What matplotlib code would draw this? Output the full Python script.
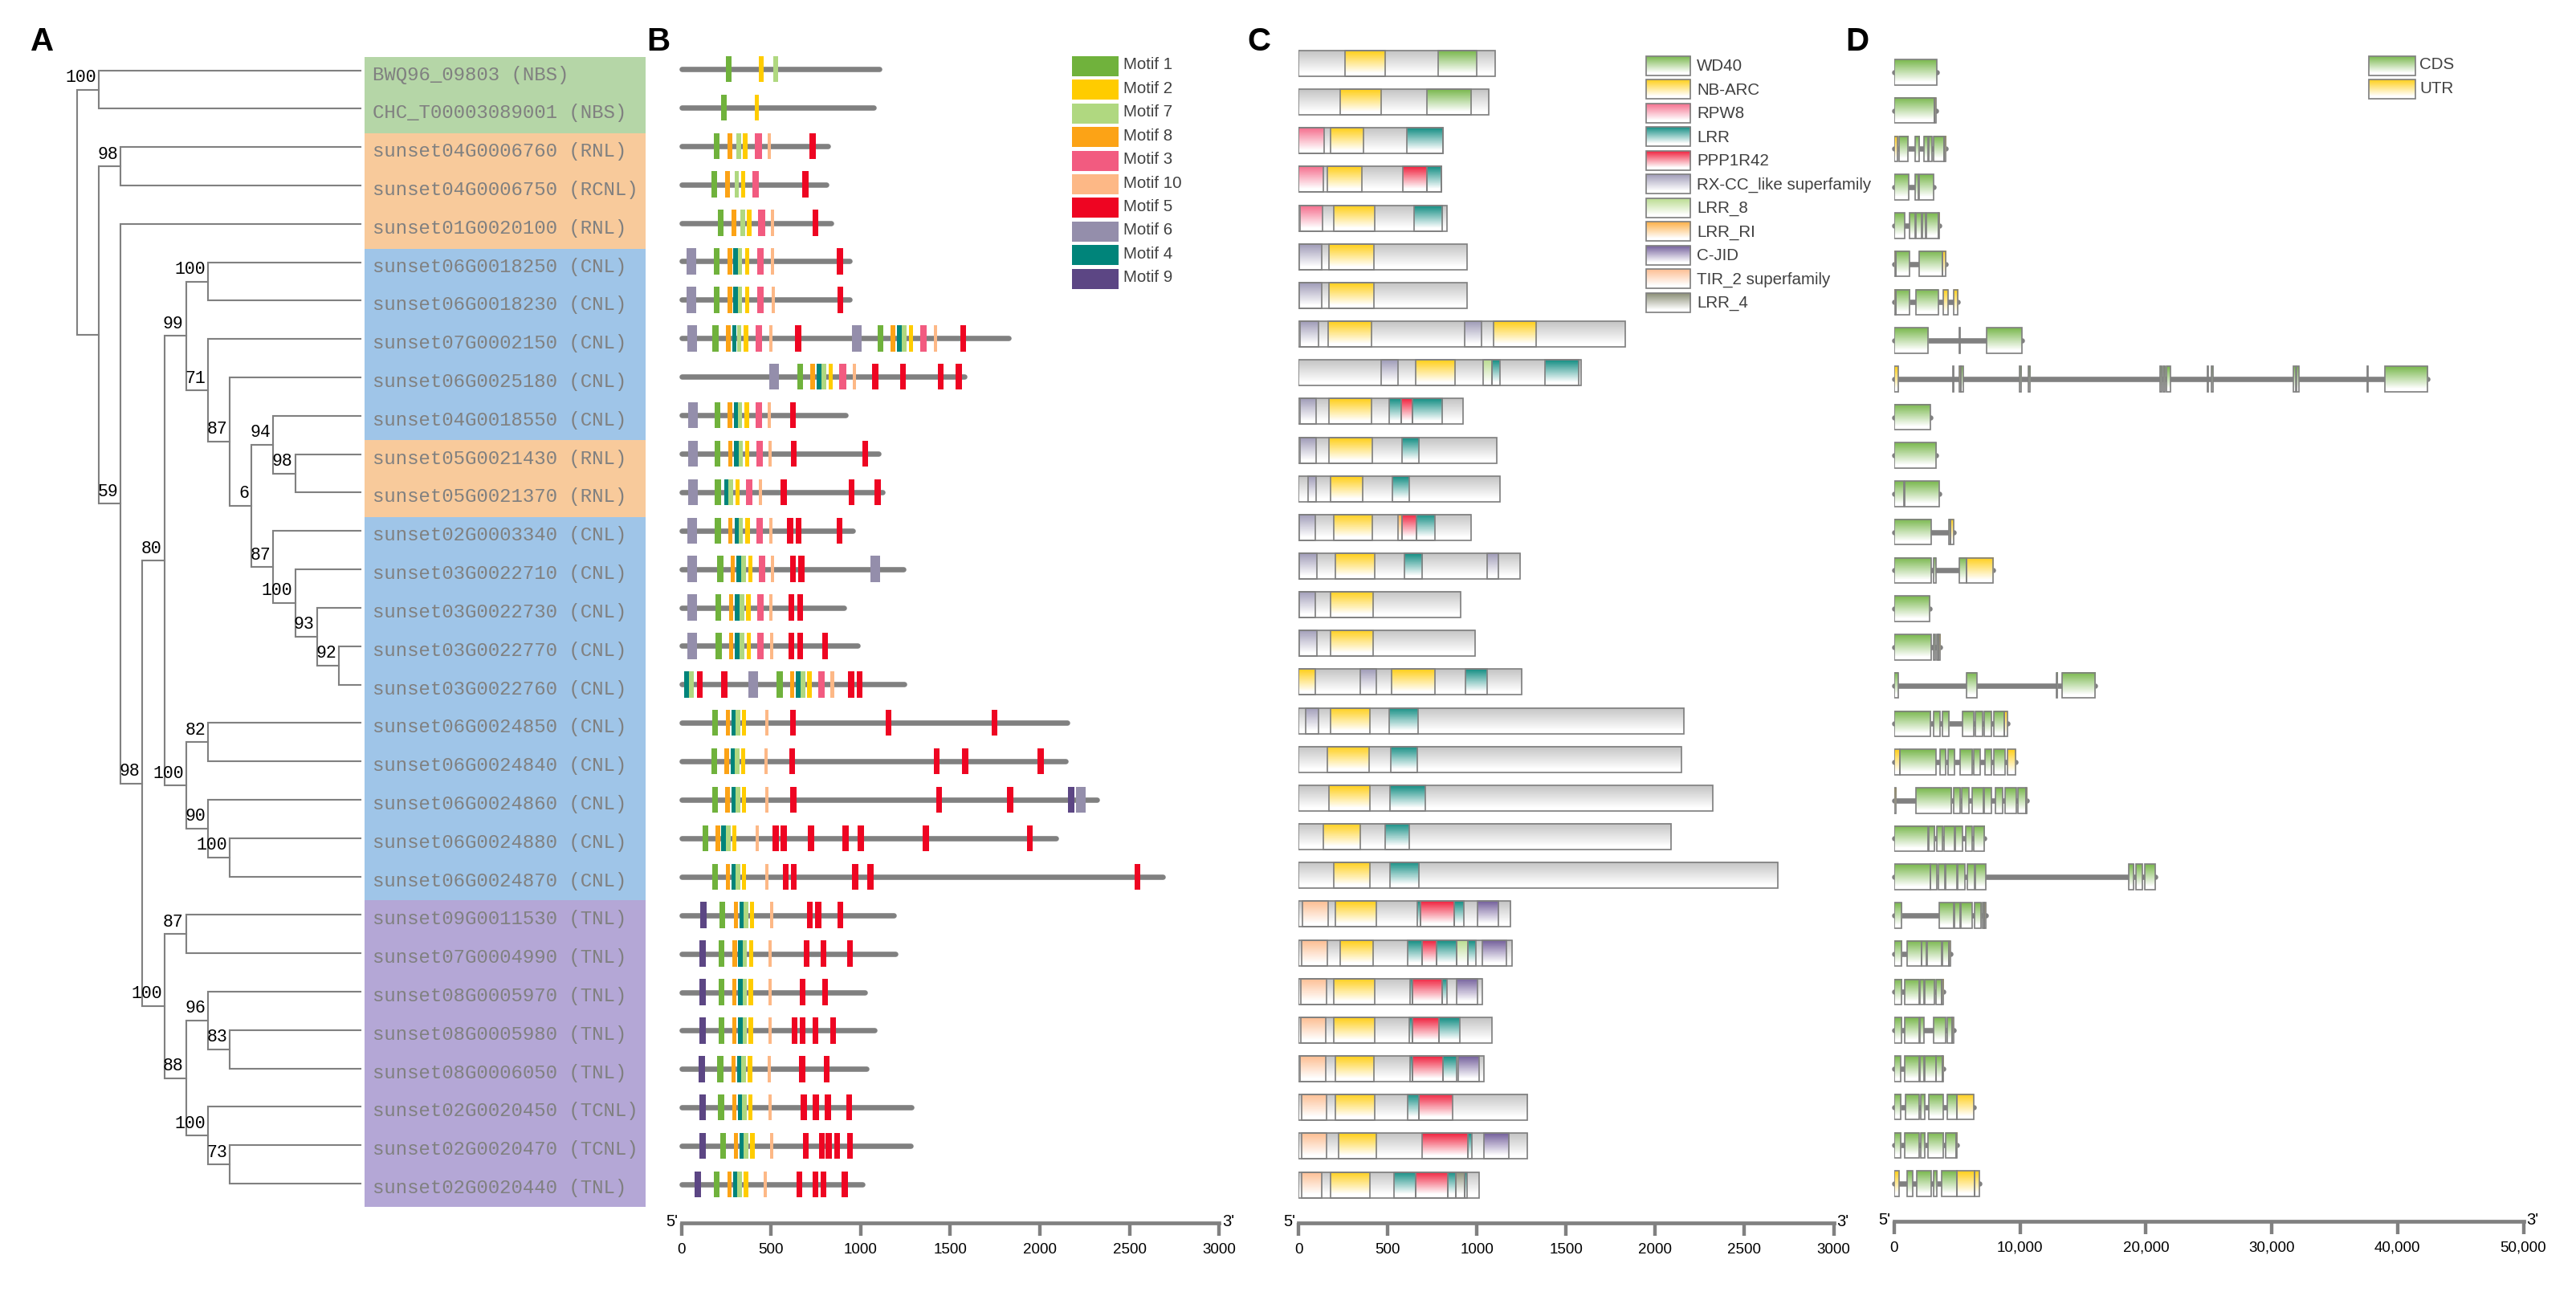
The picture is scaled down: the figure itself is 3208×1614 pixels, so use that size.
import numpy as np
import matplotlib
matplotlib.use('Agg')
import matplotlib.pyplot as plt
from matplotlib.patches import Rectangle
from matplotlib.colors import to_rgb

NARROW = ['Liberation Sans']
GRAY = '#808080'
W, H = 3208, 1615

# %% panel A
gene_labels = [
    'BWQ96_09803 (NBS)', 'CHC_T00003089001 (NBS)', 'sunset04G0006760 (RNL)',
    'sunset04G0006750 (RCNL)', 'sunset01G0020100 (RNL)', 'sunset06G0018250 (CNL)',
    'sunset06G0018230 (CNL)', 'sunset07G0002150 (CNL)', 'sunset06G0025180 (CNL)',
    'sunset04G0018550 (CNL)', 'sunset05G0021430 (RNL)', 'sunset05G0021370 (RNL)',
    'sunset02G0003340 (CNL)', 'sunset03G0022710 (CNL)', 'sunset03G0022730 (CNL)',
    'sunset03G0022770 (CNL)', 'sunset03G0022760 (CNL)', 'sunset06G0024850 (CNL)',
    'sunset06G0024840 (CNL)', 'sunset06G0024860 (CNL)', 'sunset06G0024880 (CNL)',
    'sunset06G0024870 (CNL)', 'sunset09G0011530 (TNL)', 'sunset07G0004990 (TNL)',
    'sunset08G0005970 (TNL)', 'sunset08G0005980 (TNL)', 'sunset08G0006050 (TNL)',
    'sunset02G0020450 (TCNL)', 'sunset02G0020470 (TCNL)', 'sunset02G0020440 (TNL)',
]
band_sizes = [2, 3, 5, 2, 10, 8]
band_colors = ['#B5D6A7', '#F8CA9B', '#9FC5E8', '#F8CA9B', '#9FC5E8', '#B4A7D6']

# (bootstrap, child, child), a tip is its row number
tree_upper = ('99', ('100', 5, 6),
              ('71', 7, ('87', 8, ('6', ('94', 9, ('98', 10, 11)),
                                   ('87', 12, ('100', 13, ('93', 14, ('92', 15, 16))))))))
tree_cnl = ('100', ('82', 17, 18), ('90', 19, ('100', 20, 21)))
tree_tnl = ('100', ('87', 22, 23),
            ('88', ('96', 24, ('83', 25, 26)), ('100', 27, ('73', 28, 29))))
tree = ('', ('100', 0, 1),
        ('', ('98', 2, 3), ('59', 4, ('98', ('80', tree_upper, tree_cnl), tree_tnl))))

# %% panel B, (motif, start, end) in aa
motif_order = [1, 2, 7, 8, 3, 10, 5, 6, 4, 9]
motif_colors = ['#70B23C', '#FFCC00', '#B0D880', '#FCA316', '#F25B80',
                '#FDB886', '#EE0522', '#948EAB', '#00847A', '#5C4684']
protein_len_b = [1104, 1072, 816, 808, 836, 938, 938, 1823, 1578, 918,
                 1100, 1121, 956, 1238, 908, 981, 1244, 2153, 2141, 2318,
                 2088, 2683, 1183, 1195, 1024, 1078, 1033, 1283, 1278, 1008]
motif_rows = [
    [(1, 249, 280), (2, 432, 458), (7, 512, 539)],
    [(1, 222, 253), (2, 409, 432)],
    [(1, 181, 214), (8, 257, 284), (7, 306, 333), (2, 343, 370), (3, 409, 448), (10, 481, 500), (5, 713, 750)],
    [(1, 169, 199), (8, 245, 271), (7, 298, 321), (2, 333, 356), (3, 397, 432), (5, 674, 709)],
    [(1, 204, 234), (8, 280, 306), (7, 329, 356), (2, 366, 393), (3, 428, 469), (10, 500, 518), (5, 732, 763)],
    [(6, 29, 82), (1, 181, 214), (8, 257, 284), (4, 290, 317), (7, 317, 337), (2, 356, 378), (3, 424, 458), (10, 500, 518), (5, 866, 903)],
    [(6, 29, 82), (1, 181, 214), (8, 257, 284), (4, 290, 317), (7, 317, 337), (2, 356, 378), (3, 424, 458), (10, 504, 522), (5, 872, 903)],
    [(6, 33, 88), (1, 173, 208), (8, 249, 276), (4, 284, 306), (7, 310, 333), (2, 347, 374), (3, 415, 450), (10, 491, 508), (5, 633, 670),
     (6, 952, 1005), (1, 1096, 1127), (8, 1166, 1192), (4, 1203, 1229), (7, 1229, 1256), (2, 1268, 1291), (3, 1332, 1367), (10, 1408, 1427), (5, 1556, 1587)],
    [(6, 491, 545), (1, 648, 678), (8, 720, 746), (4, 755, 781), (7, 781, 808), (2, 822, 845), (3, 880, 921), (10, 956, 975),
     (5, 1063, 1100), (5, 1221, 1252), (5, 1431, 1462), (5, 1530, 1565)],
    [(6, 39, 93), (1, 185, 218), (8, 257, 284), (4, 294, 317), (7, 317, 337), (2, 352, 378), (3, 415, 450), (10, 481, 500), (5, 607, 637)],
    [(6, 39, 93), (1, 185, 218), (8, 261, 284), (4, 294, 321), (7, 321, 343), (2, 356, 378), (3, 419, 454), (10, 485, 504), (5, 611, 644), (5, 1010, 1040)],
    [(6, 39, 93), (1, 185, 222), (4, 241, 261), (7, 261, 290), (2, 302, 325), (3, 360, 397), (10, 432, 450), (5, 553, 588), (5, 933, 964), (5, 1077, 1112)],
    [(6, 33, 88), (1, 185, 222), (8, 261, 284), (4, 298, 321), (7, 321, 343), (2, 356, 382), (3, 419, 454), (10, 491, 508), (5, 588, 625), (5, 637, 670), (5, 866, 898)],
    [(6, 33, 88), (1, 199, 234), (8, 276, 298), (4, 306, 333), (7, 333, 360), (2, 374, 397), (3, 432, 469), (10, 500, 518), (5, 607, 637), (5, 652, 687), (6, 1055, 1108)],
    [(6, 33, 88), (1, 191, 222), (8, 267, 290), (4, 298, 325), (7, 325, 352), (2, 360, 387), (3, 424, 458), (10, 491, 508), (5, 598, 629), (5, 648, 678)],
    [(6, 33, 88), (1, 191, 226), (8, 267, 290), (4, 298, 325), (7, 325, 352), (2, 366, 389), (3, 424, 458), (10, 495, 512), (5, 598, 629), (5, 648, 678), (5, 785, 818)],
    [(4, 16, 43), (7, 43, 70), (5, 88, 119), (5, 222, 257), (6, 374, 428), (1, 530, 567), (8, 607, 629), (4, 637, 664), (7, 664, 693), (2, 701, 728),
     (3, 763, 800), (10, 831, 853), (5, 929, 964), (5, 979, 1010)],
    [(1, 173, 204), (8, 249, 271), (4, 280, 302), (7, 302, 329), (2, 337, 360), (10, 469, 485), (5, 607, 637), (5, 1139, 1172), (5, 1731, 1762)],
    [(1, 169, 199), (8, 241, 267), (4, 276, 298), (7, 298, 325), (2, 333, 356), (10, 463, 481), (5, 602, 633), (5, 1408, 1439), (5, 1565, 1602), (5, 1986, 2021)],
    [(1, 173, 204), (8, 245, 271), (4, 280, 302), (7, 302, 329), (2, 337, 360), (10, 469, 485), (5, 607, 644), (5, 1423, 1454), (5, 1815, 1852), (9, 2157, 2192), (6, 2200, 2255)],
    [(1, 119, 150), (8, 191, 218), (4, 222, 249), (7, 249, 276), (2, 284, 306), (10, 415, 432), (5, 508, 545), (5, 553, 588), (5, 705, 740), (5, 898, 933), (5, 983, 1020), (5, 1345, 1382), (5, 1929, 1959)],
    [(1, 173, 204), (8, 249, 271), (4, 280, 302), (7, 302, 329), (2, 337, 360), (10, 469, 485), (5, 567, 598), (5, 611, 644), (5, 952, 987), (5, 1036, 1073), (5, 2527, 2560)],
    [(9, 105, 142), (1, 214, 245), (8, 294, 317), (4, 325, 347), (7, 347, 374), (2, 382, 405), (10, 495, 512), (5, 701, 732), (5, 746, 781), (5, 872, 903)],
    [(9, 101, 136), (1, 208, 241), (8, 284, 310), (4, 317, 343), (7, 343, 366), (2, 378, 401), (10, 485, 504), (5, 683, 713), (5, 777, 808), (5, 925, 956)],
    [(9, 101, 136), (1, 208, 241), (8, 284, 306), (4, 317, 343), (7, 343, 366), (2, 374, 401), (10, 485, 504), (5, 660, 693), (5, 785, 818)],
    [(9, 101, 136), (1, 208, 241), (8, 284, 306), (4, 317, 343), (7, 343, 366), (2, 374, 401), (10, 485, 504), (5, 617, 648), (5, 660, 693), (5, 732, 763), (5, 831, 861)],
    [(9, 97, 132), (1, 199, 234), (8, 280, 302), (4, 310, 333), (7, 333, 360), (2, 370, 397), (10, 481, 500), (5, 656, 693), (5, 796, 827)],
    [(9, 101, 136), (1, 204, 241), (8, 284, 306), (4, 317, 337), (7, 337, 366), (2, 374, 397), (10, 485, 504), (5, 664, 701), (5, 732, 769), (5, 800, 835), (5, 921, 952)],
    [(9, 101, 136), (1, 218, 249), (8, 294, 317), (4, 325, 347), (7, 347, 374), (2, 382, 409), (10, 495, 512), (5, 678, 709), (5, 769, 800), (5, 804, 839), (5, 853, 884), (5, 925, 956)],
    [(9, 74, 109), (1, 181, 214), (8, 257, 280), (4, 290, 310), (7, 310, 337), (2, 347, 374), (10, 458, 477), (5, 644, 674), (5, 732, 763), (5, 777, 808), (5, 894, 929)],
]

# %% panel C, (domain, start, end) in aa
domain_names = ['WD40', 'NB-ARC', 'RPW8', 'LRR', 'PPP1R42', 'RX-CC_like superfamily',
                'LRR_8', 'LRR_RI', 'C-JID', 'TIR_2 superfamily', 'LRR_4']
domain_colors = ['#7AB84E', '#FFCF1A', '#F56F8E', '#148E84', '#F0233F', '#A09CB8',
                 '#BADC90', '#FDAF45', '#74609C', '#FDBE92', '#8A8E76']
protein_len_c = [1100, 1068, 811, 802, 833, 943, 943, 1830, 1586, 923,
                 1109, 1127, 965, 1243, 909, 988, 1252, 2162, 2148, 2321,
                 2090, 2686, 1189, 1198, 1028, 1082, 1037, 1284, 1284, 1010]
domain_rows = [
    [('NB-ARC', 258, 486), ('WD40', 784, 997)],
    [('NB-ARC', 231, 464), ('WD40', 717, 965)],
    [('RPW8', 0, 141), ('NB-ARC', 177, 365), ('LRR', 605, 811)],
    [('RPW8', 0, 137), ('NB-ARC', 159, 356), ('PPP1R42', 582, 721), ('LRR', 721, 802)],
    [('RPW8', 9, 132), ('NB-ARC', 199, 428), ('LRR', 645, 806)],
    [('RX-CC_like superfamily', 4, 128), ('NB-ARC', 172, 423)],
    [('RX-CC_like superfamily', 4, 128), ('NB-ARC', 172, 423)],
    [('RX-CC_like superfamily', 9, 110), ('NB-ARC', 164, 410), ('RX-CC_like superfamily', 930, 1024), ('NB-ARC', 1091, 1333)],
    [('RX-CC_like superfamily', 464, 556), ('NB-ARC', 654, 878), ('LRR_8', 1033, 1086), ('LRR', 1086, 1127), ('LRR', 1380, 1572)],
    [('RX-CC_like superfamily', 9, 96), ('NB-ARC', 168, 410), ('LRR', 506, 573), ('PPP1R42', 573, 636), ('LRR', 636, 806)],
    [('RX-CC_like superfamily', 9, 96), ('NB-ARC', 172, 414), ('LRR', 578, 676)],
    [('RX-CC_like superfamily', 51, 96), ('NB-ARC', 177, 361), ('LRR', 524, 618)],
    [('RX-CC_like superfamily', 4, 92), ('NB-ARC', 195, 414), ('LRR_RI', 556, 578), ('PPP1R42', 578, 659), ('LRR', 659, 762)],
    [('RX-CC_like superfamily', 4, 101), ('NB-ARC', 204, 428), ('LRR', 591, 694), ('RX-CC_like superfamily', 1055, 1118)],
    [('RX-CC_like superfamily', 4, 92), ('NB-ARC', 177, 419)],
    [('RX-CC_like superfamily', 4, 101), ('NB-ARC', 177, 419)],
    [('NB-ARC', 0, 92), ('RX-CC_like superfamily', 347, 437), ('NB-ARC', 520, 762), ('LRR', 934, 1055)],
    [('RX-CC_like superfamily', 40, 110), ('NB-ARC', 177, 401), ('LRR', 506, 668)],
    [('NB-ARC', 159, 396), ('LRR', 515, 663)],
    [('NB-ARC', 168, 401), ('LRR', 511, 708)],
    [('NB-ARC', 137, 347), ('LRR', 486, 618)],
    [('NB-ARC', 195, 401), ('LRR', 511, 676)],
    [('TIR_2 superfamily', 22, 164), ('NB-ARC', 208, 437), ('LRR', 663, 685), ('PPP1R42', 685, 874), ('LRR', 874, 927), ('C-JID', 1001, 1122)],
    [('TIR_2 superfamily', 18, 159), ('NB-ARC', 231, 419), ('LRR', 609, 694), ('PPP1R42', 694, 771), ('LRR', 771, 887), ('LRR_8', 887, 948), ('LRR', 948, 992), ('C-JID', 1028, 1167)],
    [('TIR_2 superfamily', 13, 155), ('NB-ARC', 199, 428), ('LRR', 623, 636), ('PPP1R42', 636, 806), ('LRR', 806, 833), ('C-JID', 887, 1001)],
    [('TIR_2 superfamily', 13, 150), ('NB-ARC', 199, 428), ('LRR', 618, 636), ('PPP1R42', 636, 788), ('LRR', 788, 905)],
    [('TIR_2 superfamily', 9, 150), ('NB-ARC', 204, 423), ('LRR', 623, 636), ('PPP1R42', 636, 811), ('LRR', 811, 887), ('C-JID', 896, 1010)],
    [('TIR_2 superfamily', 18, 155), ('NB-ARC', 208, 428), ('LRR', 609, 676), ('PPP1R42', 676, 865)],
    [('TIR_2 superfamily', 18, 155), ('NB-ARC', 222, 437), ('PPP1R42', 690, 948), ('LRR', 948, 970), ('C-JID', 1037, 1180)],
    [('TIR_2 superfamily', 18, 128), ('NB-ARC', 181, 401), ('LRR', 533, 654), ('PPP1R42', 654, 838), ('LRR', 838, 883), ('LRR_4', 883, 930), ('LRR', 930, 943)],
]

# %% panel D, (kind, start, end) in bp
exon_colors = ['#7AB84E', '#FFCF1A']
exon_names = ['CDS', 'UTR']
exon_rows = [
    [('CDS', 0, 3367)],
    [('CDS', 0, 3219), ('UTR', 3219, 3330)],
    [('UTR', 0, 259), ('CDS', 370, 1110), ('CDS', 1628, 1998), ('CDS', 2331, 2701), ('CDS', 2775, 2997), ('CDS', 3108, 3959), ('UTR', 3959, 4107)],
    [('CDS', 0, 1147), ('CDS', 1628, 1887), ('CDS', 1998, 3108)],
    [('CDS', 0, 814), ('CDS', 1221, 1628), ('CDS', 1739, 2183), ('CDS', 2257, 2479), ('CDS', 2553, 3478), ('UTR', 3478, 3552)],
    [('UTR', 0, 111), ('CDS', 111, 1184), ('CDS', 1998, 3811), ('UTR', 3811, 4070)],
    [('UTR', 0, 111), ('CDS', 111, 1221), ('CDS', 1702, 3478), ('UTR', 3922, 4255), ('UTR', 4736, 5069)],
    [('CDS', 0, 2701), ('CDS', 5180, 5217), ('CDS', 7363, 10138)],
    [('UTR', 0, 296), ('CDS', 4662, 4699), ('UTR', 5180, 5328), ('CDS', 5328, 5476), ('CDS', 9953, 10101), ('CDS', 10656, 10804),
     ('CDS', 21127, 21275), ('CDS', 21386, 21534), ('CDS', 21645, 21941), ('CDS', 24901, 24938), ('CDS', 25197, 25308),
     ('CDS', 31709, 31894), ('CDS', 31968, 32153), ('CDS', 37592, 37629), ('CDS', 38961, 42402)],
    [('CDS', 0, 2849)],
    [('CDS', 0, 3330)],
    [('CDS', 0, 740), ('CDS', 851, 3589)],
    [('CDS', 0, 2923), ('CDS', 4366, 4477), ('UTR', 4477, 4699)],
    [('CDS', 0, 2923), ('CDS', 3108, 3293), ('CDS', 5143, 5772), ('UTR', 5772, 7881)],
    [('CDS', 0, 2812)],
    [('CDS', 0, 2923), ('CDS', 3145, 3256), ('CDS', 3404, 3515), ('UTR', 3515, 3663)],
    [('CDS', 0, 296), ('CDS', 5772, 6549), ('CDS', 12876, 12950), ('CDS', 13320, 15984)],
    [('CDS', 0, 2886), ('CDS', 3145, 3626), ('CDS', 3811, 4366), ('CDS', 5439, 6290), ('CDS', 6438, 6993), ('CDS', 7141, 7696), ('CDS', 7918, 8769), ('UTR', 8769, 8991)],
    [('UTR', 0, 444), ('CDS', 444, 3293), ('CDS', 3626, 4107), ('CDS', 4292, 4810), ('CDS', 5217, 6179), ('CDS', 6327, 6808), ('CDS', 7215, 7696), ('CDS', 7918, 8806), ('UTR', 8991, 9657)],
    [('UTR', 0, 148), ('CDS', 1702, 4551), ('CDS', 4736, 5254), ('CDS', 5365, 5920), ('CDS', 6179, 7067), ('CDS', 7141, 7696), ('CDS', 8029, 8584), ('CDS', 8806, 9694), ('CDS', 9842, 10434), ('UTR', 10434, 10508)],
    [('CDS', 0, 2664), ('CDS', 2738, 3219), ('CDS', 3367, 3848), ('CDS', 3959, 4773), ('CDS', 4847, 5402), ('CDS', 5698, 6179), ('CDS', 6327, 7178)],
    [('CDS', 0, 2849), ('CDS', 2886, 3404), ('CDS', 3515, 3996), ('CDS', 4070, 4958), ('CDS', 5032, 5587), ('CDS', 5809, 6364), ('CDS', 6475, 7289), ('CDS', 18611, 19018), ('CDS', 19240, 19721), ('CDS', 19906, 20720)],
    [('CDS', 0, 592), ('CDS', 3589, 4699), ('CDS', 4773, 5254), ('CDS', 5328, 6216), ('CDS', 6364, 6882), ('CDS', 6993, 7141), ('UTR', 7141, 7252)],
    [('CDS', 0, 592), ('CDS', 1036, 2146), ('CDS', 2146, 2553), ('CDS', 2627, 3737), ('CDS', 3811, 4366), ('UTR', 4366, 4477)],
    [('CDS', 0, 592), ('CDS', 851, 1961), ('CDS', 2072, 2331), ('CDS', 2442, 3219), ('CDS', 3293, 3737), ('UTR', 3737, 3922)],
    [('CDS', 0, 592), ('CDS', 851, 1961), ('CDS', 2072, 2331), ('CDS', 3145, 4070), ('CDS', 4181, 4625), ('UTR', 4625, 4736)],
    [('CDS', 0, 481), ('CDS', 851, 1961), ('CDS', 2072, 2331), ('CDS', 2442, 3293), ('CDS', 3330, 3811), ('UTR', 3811, 3922)],
    [('CDS', 0, 518), ('CDS', 925, 1998), ('CDS', 2109, 2442), ('CDS', 2775, 3922), ('CDS', 4181, 4958), ('UTR', 4958, 6290)],
    [('CDS', 0, 518), ('CDS', 851, 1998), ('CDS', 2109, 2442), ('CDS', 2701, 3922), ('CDS', 4107, 4921), ('UTR', 4921, 4995)],
    [('UTR', 0, 370), ('CDS', 1036, 1443), ('CDS', 1813, 2923), ('CDS', 3108, 3404), ('CDS', 3737, 4958), ('UTR', 4958, 6364), ('UTR', 6401, 6734)],
]

ticks_aa = [0, 500, 1000, 1500, 2000, 2500, 3000]
ticks_bp = [0, 10000, 20000, 30000, 40000, 50000]


def px(p):
    return p * 0.72


fig = plt.figure(figsize=(W / 100, H / 100), dpi=100)


def row_axes(x0, x1, xmax, base, y_first, y_last, ticks=None, ticklabels=None):
    # axes runs from the top of the figure down to the scale bar
    ax = fig.add_axes([x0 / W, 1 - base / H, (x1 - x0) / W, base / H])
    pitch = (y_last - y_first) / 29
    ax.set_xlim(0, xmax)
    ax.set_ylim((base - y_first) / pitch, -y_first / pitch)
    ax.patch.set_alpha(0)
    ax.set_yticks([])
    for s in ['left', 'right', 'top']:
        ax.spines[s].set_visible(False)
    if ticks is None:
        ax.spines['bottom'].set_visible(False)
        ax.set_xticks([])
    else:
        ax.spines['bottom'].set_color(GRAY)
        ax.spines['bottom'].set_linewidth(px(4.7))
        ax.set_xticks(ticks)
        ax.set_xticklabels(ticklabels, family=NARROW, fontsize=13.5)
        ax.tick_params(axis='x', length=px(16), width=px(4.4), color=GRAY, pad=px(8))
        ax.annotate("5'", (0, 0), xycoords=('data', 'axes fraction'), xytext=(px(-12), px(2)),
                    textcoords='offset points', ha='center', va='center', family=NARROW, fontsize=14.5)
        ax.annotate("3'", (xmax, 0), xycoords=('data', 'axes fraction'), xytext=(px(11), px(2)),
                    textcoords='offset points', ha='center', va='center', family=NARROW, fontsize=14.5)
    return ax, pitch


def gradient(color):
    t = np.clip(np.linspace(0, 1, 48) / 0.88, 0, 1)[:, None, None]
    return np.array(to_rgb(color))[None, None, :] * (1 - t) + t


def grad_box(ax, x0, x1, y, h, color, lw=px(1.7)):
    ax.imshow(gradient(color), extent=(x0, x1, y + h / 2, y - h / 2), aspect='auto',
              interpolation='nearest', zorder=3, origin='upper')
    ax.add_patch(Rectangle((x0, y - h / 2), x1 - x0, h, fill=False, ec=GRAY, lw=lw, zorder=4))


# %% A: tree and gene bands
unit = 27.15
ax_a, pitch_a = row_axes(96, 804, (804 - 96) / unit, 1524, 88.6, 1475)


def draw_node(node, depth):
    if isinstance(node, int):
        return node, 13
    label, first, second = node
    y1, x1 = draw_node(first, depth + 1)
    y2, x2 = draw_node(second, depth + 1)
    ax_a.plot([x1, depth, depth, x2], [y1, y1, y2, y2], color=GRAY, lw=px(2.1),
              solid_joinstyle='miter', clip_on=False)
    y = (y1 + y2) / 2
    if label:
        ax_a.annotate(label, (depth, y), xytext=(px(-3), px(16)), textcoords='offset points',
                      ha='right', va='center', family='Liberation Mono', fontsize=15.5,
                      color='black', clip_on=False)
    return y, depth


y_root, _ = draw_node(tree, 0)
ax_a.set_xlim(0, (804 - 96) / unit)
ax_a.set_ylim((1524 - 88.6) / pitch_a, -88.6 / pitch_a)

band_left = (454 - 96) / unit
band_right = (804 - 96) / unit
band_top = (72 - 88.6) / pitch_a
band_pitch = 47.73 / pitch_a
done = 0
for size, col in zip(band_sizes, band_colors):
    ax_a.add_patch(Rectangle((band_left, band_top + done * band_pitch), band_right - band_left,
                             size * band_pitch, fc=col, ec='none', zorder=0, clip_on=False))
    done += size
for i, lab in enumerate(gene_labels):
    ax_a.annotate(lab, (band_left, i), xytext=(px(10.5), px(-4.5)), textcoords='offset points',
                  ha='left', va='center', family='Liberation Mono', fontsize=17.3, color=GRAY,
                  annotation_clip=False)

# %% B: motifs
ax_b, pitch_b = row_axes(848.5, 1518.3, 3000, 1524, 87, 1476, ticks_aa, [str(t) for t in ticks_aa])
motif_color = dict(zip(motif_order, motif_colors))
h_b = 32.5 / pitch_b
for row, (length, motifs) in enumerate(zip(protein_len_b, motif_rows)):
    ax_b.plot([0, length], [row, row], color=GRAY, lw=px(6.6), solid_capstyle='round', clip_on=False)
    for motif, start, end in motifs:
        ax_b.bar(start, h_b, width=end - start, bottom=row - h_b / 2, align='edge',
                 color=motif_color[motif], zorder=3)
ax_b.set_xlim(0, 3000)
ax_b.set_ylim((1524 - 87) / pitch_b, -87 / pitch_b)

# %% C: domains
ax_c, pitch_c = row_axes(1617.3, 2283.5, 3000, 1524, 80, 1476.5, ticks_aa, [str(t) for t in ticks_aa])
domain_color = dict(zip(domain_names, domain_colors))
h_c = 32 / pitch_c
for row, (length, domains) in enumerate(zip(protein_len_c, domain_rows)):
    grad_box(ax_c, 0, length, row, h_c, '#C4C4C4')
    for name, start, end in domains:
        grad_box(ax_c, start, end, row, h_c, domain_color[name])
ax_c.set_xlim(0, 3000)
ax_c.set_ylim((1524 - 80) / pitch_c, -80 / pitch_c)

# %% D: gene structure
ax_d, pitch_d = row_axes(2359, 3142.5, 50000, 1522, 91, 1475, ticks_bp, [f'{t:,}' for t in ticks_bp])
exon_color = dict(zip(exon_names, exon_colors))
h_d = 31.5 / pitch_d
for row, exons in enumerate(exon_rows):
    ax_d.plot([0, exons[-1][2]], [row, row], color=GRAY, lw=px(6.6), solid_capstyle='round', clip_on=False)
    for kind, start, end in exons:
        grad_box(ax_d, start, end, row, h_d, exon_color[kind])
ax_d.set_xlim(0, 50000)
ax_d.set_ylim((1522 - 91) / pitch_d, -91 / pitch_d)

# %% overlay in figure pixels: legends and panel letters
over = fig.add_axes([0, 0, 1, 1])
over.set_xlim(0, W)
over.set_ylim(H, 0)
over.axis('off')
over.patch.set_alpha(0)

for i, no in enumerate(motif_order):
    y = 71 + 29.4 * i
    over.add_patch(Rectangle((1335, y), 58, 25, fc=motif_color[no], ec='none'))
    over.text(1399, y + 10, f'Motif {no}', family=NARROW, fontsize=14.8, color='#404040', va='center')

for i, name in enumerate(domain_names):
    y = 71 + 29.45 * i
    grad_box(over, 2049.6, 2105.4, y + 12, 24, domain_color[name])
    over.text(2113, y + 12, name, family=NARROW, fontsize=14.8, color='#404040', va='center')

for i, name in enumerate(exon_names):
    y = 71 + 29.3 * i
    grad_box(over, 2949.7, 3007.6, y + 12, 24, exon_color[name])
    over.text(3013, y + 10, name, family=NARROW, fontsize=14.8, color='#404040', va='center')
over.set_xlim(0, W)
over.set_ylim(H, 0)

for letter, x in zip('ABCD', [38, 805, 1553, 2298]):
    over.text(x, 52, letter, family='Liberation Sans', fontweight='bold', fontsize=29, va='center', color='black')

fig.savefig('out.png', dpi=100)
